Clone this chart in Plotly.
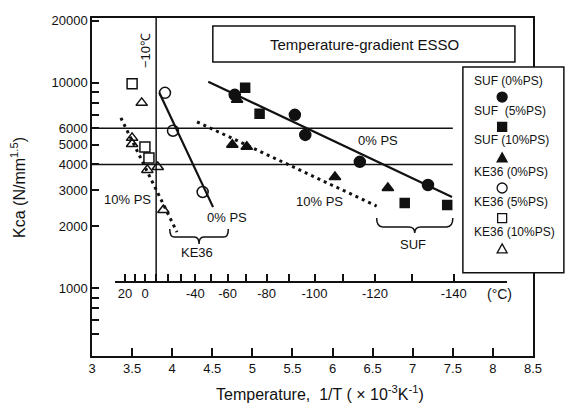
import plotly.graph_objects as go

# ---------------- data ----------------
# SUF series (x = 1/T in 1e-3 K^-1, y = Kca in N/mm^1.5)
suf0_x = [4.78, 5.53, 5.66, 6.34, 7.19]
suf0_y = [8730, 6980, 5570, 4120, 3180]
suf5_x = [4.91, 5.09, 6.90, 7.43]
suf5_y = [9460, 7060, 2600, 2540]
suf10_x = [4.81, 4.75, 4.93, 6.03, 6.69]
suf10_y = [8260, 4990, 4880, 3475, 3075]
# KE36 series
ke0_x = [3.91, 4.01, 4.38]
ke0_y = [8930, 5840, 2940]
ke5_x = [3.50, 3.66, 3.71]
ke5_y = [9890, 4870, 4300]
ke10_x = [3.62, 3.50, 3.50, 3.69, 3.82, 3.89]
ke10_y = [7980, 5390, 5030, 3765, 3890, 2400]

# fitted lines (end points)
suf0_fit_x = [4.45, 7.49]
suf0_fit_y = [10120, 2780]
suf10_fit_x = [4.31, 6.55]
suf10_fit_y = [6450, 2510]
ke0_fit_x = [3.84, 4.51]
ke0_fit_y = [8930, 2480]
ke10_fit_x = [3.36, 4.06]
ke10_fit_y = [6750, 1875]

# reference Kca levels
kca_levels = [6000, 4000]
kca_level_x = [3.0, 7.5]

# axis ticks
x_ticks = [3, 3.5, 4, 4.5, 5, 5.5, 6, 6.5, 7, 7.5, 8, 8.5]
y_labels = [1000, 2000, 3000, 4000, 5000, 6000, 10000, 20000]
y_minor = [600, 700, 800, 900, 7000, 8000, 9000]
temp_ticks_c = list(range(30, -141, -10))
temp_labelled = [20, 0, -40, -60, -80, -100, -120, -140]
temp_line_c = -10

legend_labels = ["SUF (0%PS)", "SUF  (5%PS)", "SUF (10%PS)",
                 "KE36 (0%PS)", "KE36 (5%PS)", "KE36 (10%PS)"]
legend_kinds = ["circle", "square", "triangle", "circle", "square", "triangle"]
legend_filled = [True, True, True, False, False, False]

def inv_t(c):
    return 1000.0 / (c + 273.15)

FONT = "Liberation Sans, Arial, sans-serif"
BLACK = "#111111"

X_RANGE = [3.0, 8.5]
Y_RANGE_LOG = [2.67, 4.315]

fig = go.Figure()

# reference lines at 6000 / 4000
for lv in kca_levels:
    fig.add_trace(go.Scatter(x=kca_level_x, y=[lv, lv], mode="lines",
                             line=dict(color=BLACK, width=1.5),
                             showlegend=False, hoverinfo="skip"))

# fitted lines
fig.add_trace(go.Scatter(x=suf0_fit_x, y=suf0_fit_y, mode="lines",
                         line=dict(color=BLACK, width=2.2), showlegend=False))
fig.add_trace(go.Scatter(x=ke0_fit_x, y=ke0_fit_y, mode="lines",
                         line=dict(color=BLACK, width=2.2), showlegend=False))
fig.add_trace(go.Scatter(x=suf10_fit_x, y=suf10_fit_y, mode="lines",
                         line=dict(color=BLACK, width=3, dash="3px,4px"), showlegend=False))
fig.add_trace(go.Scatter(x=ke10_fit_x, y=ke10_fit_y, mode="lines",
                         line=dict(color=BLACK, width=3, dash="3px,4px"), showlegend=False))

def pts(x, y, symbol, size, name, filled):
    fig.add_trace(go.Scatter(
        x=x, y=y, mode="markers", name=name, showlegend=False,
        marker=dict(symbol=symbol, size=size,
                    color=BLACK if filled else "rgba(255,255,255,0)",
                    line=dict(color=BLACK, width=1.5))))

pts(suf0_x, suf0_y, "circle", 11, "SUF (0%PS)", True)
pts(suf5_x, suf5_y, "square", 9, "SUF (5%PS)", True)
pts(suf10_x, suf10_y, "triangle-up", 10, "SUF (10%PS)", True)
pts(ke0_x, ke0_y, "circle", 11, "KE36 (0%PS)", False)
pts(ke5_x, ke5_y, "square", 10, "KE36 (5%PS)", False)
pts(ke10_x, ke10_y, "triangle-up", 10, "KE36 (10%PS)", False)

# invisible trace to register the temperature axis
fig.add_trace(go.Scatter(x=[5], y=[1000], xaxis="x2", yaxis="y", mode="markers",
                         marker=dict(opacity=0), showlegend=False, hoverinfo="skip"))

# temperature axis position (paper y) corresponding to the inner axis line
temp_axis_pos = 0.219
t_lo, t_hi = 3.29, 8.17
temp_major = [inv_t(c) for c in temp_labelled]
temp_minor = [inv_t(c) for c in temp_ticks_c if c not in temp_labelled]

TICK = dict(ticks="inside", ticklen=7, tickwidth=1.5, tickcolor=BLACK)

fig.update_layout(
    width=566, height=408,
    margin=dict(l=92, r=33, t=18, b=52),
    paper_bgcolor="white", plot_bgcolor="rgba(0,0,0,0)",
    font=dict(family=FONT, size=13, color=BLACK),
    xaxis=dict(range=X_RANGE, tickvals=x_ticks,
               ticktext=[("%g" % v) for v in x_ticks],
               ticks="inside", ticklen=8, tickwidth=1.5, tickcolor=BLACK,
               showline=True, linecolor=BLACK, linewidth=1.5, mirror=True,
               showgrid=False, zeroline=False, tickangle=0,
               tickfont=dict(size=13, family=FONT, color=BLACK)),
    xaxis2=dict(range=[t_lo, t_hi],
                domain=[(t_lo - X_RANGE[0]) / (X_RANGE[1] - X_RANGE[0]),
                        (t_hi - X_RANGE[0]) / (X_RANGE[1] - X_RANGE[0])],
                anchor="free", position=temp_axis_pos, side="bottom",
                tickvals=temp_major, ticktext=[str(c) for c in temp_labelled],
                tickangle=0, minor=dict(tickvals=temp_minor, showgrid=False, **TICK),
                showline=True, linecolor=BLACK, linewidth=1.5,
                showgrid=False, zeroline=False,
                tickfont=dict(size=13, family=FONT, color=BLACK), **TICK),
    yaxis=dict(type="log", range=Y_RANGE_LOG,
               tickvals=y_labels, ticktext=[str(v) for v in y_labels],
               minor=dict(tickvals=y_minor, showgrid=False, **TICK),
               showline=True, linecolor=BLACK, linewidth=1.5, mirror=True,
               showgrid=False, zeroline=False,
               tickfont=dict(size=13, family=FONT, color=BLACK), **TICK),
)

shapes = []
# -10 C vertical line
shapes.append(dict(type="line", xref="x", yref="paper",
                   x0=inv_t(temp_line_c), x1=inv_t(temp_line_c),
                   y0=temp_axis_pos, y1=1, line=dict(color=BLACK, width=1.5)))
# title box
shapes.append(dict(type="rect", xref="paper", yref="paper",
                   x0=0.274, x1=0.959, y0=0.870, y1=0.976,
                   line=dict(color=BLACK, width=1.5), fillcolor="white", layer="above"))
# legend box
shapes.append(dict(type="rect", xref="paper", yref="paper",
                   x0=0.841, x1=1.07, y0=0.246, y1=0.855,
                   line=dict(color=BLACK, width=1.5), fillcolor="white", layer="above"))

def brace(xa, xb, ytop, ymid, ybot):
    xc = (xa + xb) / 2
    e = (xb - xa) * 0.08
    return ("M %f,%f Q %f,%f %f,%f L %f,%f Q %f,%f %f,%f "
            "Q %f,%f %f,%f L %f,%f Q %f,%f %f,%f") % (
        xa, ytop, xa, ymid, xa + e, ymid, xc - e, ymid, xc, ymid, xc, ybot,
        xc, ymid, xc + e, ymid, xb - e, ymid, xb, ymid, xb, ytop)

shapes.append(dict(type="path", xref="x", yref="paper",
                   path=brace(3.97, 4.70, 0.376, 0.352, 0.331),
                   line=dict(color=BLACK, width=1.5)))
shapes.append(dict(type="path", xref="x", yref="paper",
                   path=brace(6.55, 7.50, 0.408, 0.382, 0.364),
                   line=dict(color=BLACK, width=1.5)))

# legend symbols (drawn as pixel-sized shapes anchored in paper coordinates)
leg_sym_x = 0.930
leg_sym_y = [0.766, 0.678, 0.586, 0.497, 0.408, 0.317]
for kind, filled, sy in zip(legend_kinds, legend_filled, leg_sym_y):
    common = dict(xref="paper", yref="paper", xsizemode="pixel", ysizemode="pixel",
                  xanchor=leg_sym_x, yanchor=sy, layer="above",
                  fillcolor=BLACK if filled else "white",
                  line=dict(color=BLACK, width=1.3))
    if kind == "circle":
        shapes.append(dict(type="circle", x0=-5, x1=5, y0=-5, y1=5, **common))
    elif kind == "square":
        shapes.append(dict(type="rect", x0=-4.5, x1=4.5, y0=-4.5, y1=4.5, **common))
    else:
        shapes.append(dict(type="path", path="M -5,-4 L 5,-4 L 0,5 Z", **common))

fig.update_layout(shapes=shapes)

ann = []
def txt(x, y, s, xref="x", yref="paper", size=13, angle=0, xanchor="center"):
    ann.append(dict(x=x, y=y, xref=xref, yref=yref, text=s, showarrow=False,
                    font=dict(size=size, family=FONT, color=BLACK),
                    textangle=angle, xanchor=xanchor, yanchor="middle"))

txt(0.617, 0.923, "Temperature-gradient ESSO", xref="paper", size=15)
txt(3.66, 0.905, "−10℃", angle=-90)
txt(6.57, 0.639, "0% PS")
txt(5.84, 0.456, "10% PS")
txt(3.44, 0.462, "10% PS")
txt(4.68, 0.411, "0% PS")
txt(4.31, 0.305, "KE36")
txt(7.00, 0.331, "SUF")
txt(8.08, 0.182, "(°C)", size=14)

# legend texts
leg_text_y = [0.813, 0.725, 0.639, 0.543, 0.456, 0.367]
for lab, ty in zip(legend_labels, leg_text_y):
    txt(0.862, ty, lab, xref="paper", size=12, xanchor="left")

# axis titles
txt(-0.168, 0.50, "Kca (N/mm<sup>1.5</sup>)", xref="paper", size=16, angle=-90)
txt(0.517, -0.109, "Temperature,  1/T ( × 10<sup>-3</sup>K<sup>-1</sup>)", xref="paper", size=16)

fig.update_layout(annotations=ann)

fig.write_html("out.html")
